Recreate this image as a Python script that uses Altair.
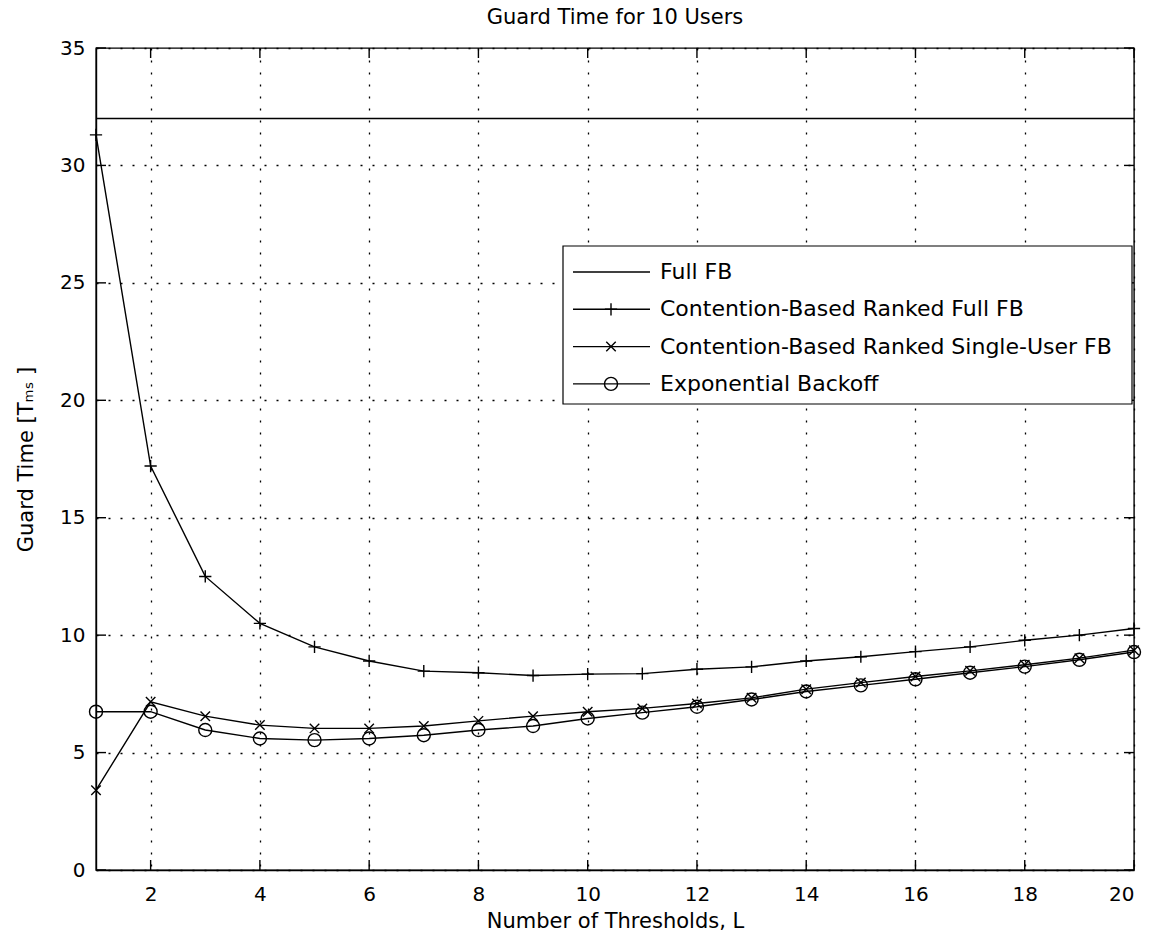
import altair as alt
import pandas as pd

# ---------------- data ----------------
L = [1, 2, 3, 4, 5, 6, 7, 8, 9, 10, 11, 12, 13, 14, 15, 16, 17, 18, 19, 20]
full_fb = [32, 32, 32, 32, 32, 32, 32, 32, 32, 32,
           32, 32, 32, 32, 32, 32, 32, 32, 32, 32]
cb_full = [31.3, 17.2, 12.5, 10.5, 9.5, 8.9, 8.47, 8.4, 8.28, 8.34,
           8.36, 8.55, 8.65, 8.9, 9.08, 9.3, 9.5, 9.78, 10.0, 10.28]
cb_single = [3.4, 7.16, 6.55, 6.17, 6.03, 6.03, 6.13, 6.35, 6.55, 6.74,
             6.88, 7.09, 7.33, 7.7, 7.98, 8.24, 8.48, 8.74, 9.02, 9.36]
exp_backoff = [6.74, 6.74, 5.96, 5.6, 5.53, 5.6, 5.74, 5.96, 6.13, 6.45,
               6.7, 6.95, 7.26, 7.6, 7.86, 8.12, 8.4, 8.66, 8.95, 9.28]
series_names = ["Full FB",
                "Contention-Based Ranked Full FB",
                "Contention-Based Ranked Single-User FB",
                "Exponential Backoff"]
x_ticks = [2, 4, 6, 8, 10, 12, 14, 16, 18, 20]
y_ticks = [0, 5, 10, 15, 20, 25, 30, 35]
title_text = "Guard Time for 10 Users"

# ---------------- layout / style ----------------
W, H = 1038, 822
FONT = "DejaVu Sans"
PLUS = "M-1,0L1,0M0,-1L0,1"
XMARK = "M-1,-1L1,1M-1,1L1,-1"
LW = 1.4
TICK = 10

rows = []
for name, vals in zip(series_names, [full_fb, cb_full, cb_single, exp_backoff]):
    for l, v in zip(L, vals):
        rows.append({"L": l, "value": v, "series": name})
df = pd.DataFrame(rows)

xs = alt.Scale(domain=[1, 20], nice=False, zero=False)
ys = alt.Scale(domain=[0, 35], nice=False, zero=True)

xenc = alt.X("L:Q", scale=xs,
             axis=alt.Axis(values=x_ticks, format="d", title="Number of Thresholds, L",
                           ticks=False, labelPadding=14, titleY=40, grid=True))
yenc = alt.Y("value:Q", scale=ys,
             axis=alt.Axis(values=y_ticks, format="d", title="Guard Time [Tₘₛ ]",
                           ticks=False, labelPadding=11, titleX=-70, titleY=H / 2,
                           titleBaseline="middle", grid=True))

base = alt.Chart(df).encode(x=xenc, y=yenc, detail="series:N")
lines = base.mark_line(color="black", strokeWidth=LW)

def pts(name, shape, size):
    return base.transform_filter(alt.datum.series == name).mark_point(
        shape=shape, size=size, filled=False, color="black", strokeWidth=LW, opacity=1)

p_plus = pts(series_names[1], PLUS, 150)
p_x = pts(series_names[2], XMARK, 90)
p_o = pts(series_names[3], "circle", 169)

# inward ticks (MATLAB style)
xt = pd.DataFrame({"L": x_ticks})
yt = pd.DataFrame({"value": y_ticks})
tick_b = alt.Chart(xt).mark_rule(color="black", strokeWidth=LW).encode(
    x=xenc, y=alt.value(H), y2=alt.value(H - TICK))
tick_t = alt.Chart(xt).mark_rule(color="black", strokeWidth=LW).encode(
    x=xenc, y=alt.value(0), y2=alt.value(TICK))
tick_l = alt.Chart(yt).mark_rule(color="black", strokeWidth=LW).encode(
    y=yenc, x=alt.value(0), x2=alt.value(TICK))
tick_r = alt.Chart(yt).mark_rule(color="black", strokeWidth=LW).encode(
    y=yenc, x=alt.value(W - TICK), x2=alt.value(W))

one = pd.DataFrame({"a": [0]})

# title as a text mark above the plot area
title_mark = alt.Chart(one).mark_text(
    align="center", baseline="middle", font=FONT, fontSize=21, color="black"
).encode(x=alt.value(W / 2), y=alt.value(-30), text=alt.value(title_text))

# manual legend (line + marker samples)
leg_box = alt.Chart(one).mark_rect(fill="white", stroke="black", strokeWidth=1.2).encode(
    x=alt.value(467), x2=alt.value(1036), y=alt.value(198), y2=alt.value(356))
leg_layers = [leg_box]
shapes = [None, (PLUS, 150), (XMARK, 90), ("circle", 169)]
for i, name in enumerate(series_names):
    ly = 224 + 37.3 * i
    leg_layers.append(alt.Chart(one).mark_rule(color="black", strokeWidth=LW).encode(
        x=alt.value(477), x2=alt.value(554), y=alt.value(ly)))
    if shapes[i] is not None:
        shp, sz = shapes[i]
        leg_layers.append(alt.Chart(one).mark_point(
            shape=shp, size=sz, filled=False, color="black", strokeWidth=LW, opacity=1
        ).encode(x=alt.value(515), y=alt.value(ly)))
    leg_layers.append(alt.Chart(one).mark_text(
        align="left", baseline="middle", font=FONT, fontSize=22, color="black"
    ).encode(x=alt.value(564), y=alt.value(ly), text=alt.value(name)))

chart = alt.layer(
    lines, p_plus, p_x, p_o, tick_b, tick_t, tick_l, tick_r, title_mark, *leg_layers
).properties(
    width=W, height=H,
    autosize=alt.AutoSizeParams(type="none"),
    padding={"left": 96, "top": 48, "right": 1153 - 96 - W, "bottom": 942 - 48 - H},
    background="white",
).configure_view(
    stroke="black", strokeWidth=LW
).configure_axis(
    domainColor="black", domainWidth=LW,
    labelFont=FONT, labelFontSize=20, labelColor="black",
    titleFont=FONT, titleFontSize=21, titleFontWeight="normal", titleColor="black",
    gridColor="black", gridDash=[2, 10], gridWidth=1.3, gridOpacity=1,
)

chart.save("out.html", embed_options={"renderer": "svg", "actions": False})
